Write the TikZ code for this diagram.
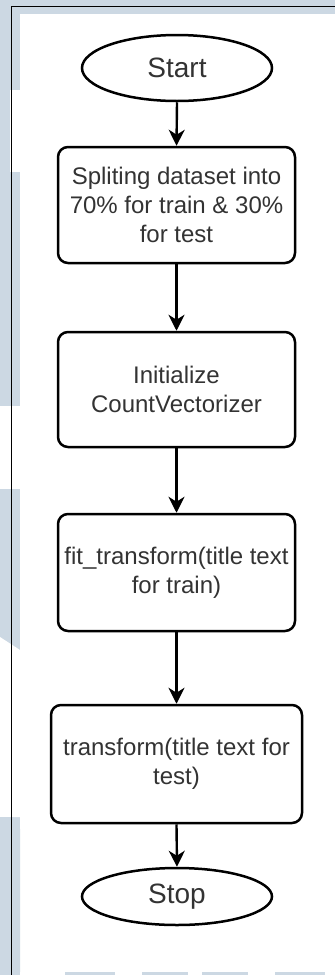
\documentclass[tikz,border=0pt]{standalone}
\usepackage{fontspec}
\setmainfont{Liberation Sans}
\usetikzlibrary{shapes.geometric,arrows.meta}

\definecolor{panelblue}{RGB}{204,216,227}
\definecolor{inkgray}{RGB}{51,51,51}

\tikzset{
  terminal/.style={ellipse, draw=black, line width=2.5pt, fill=white,
    minimum width=190pt, inner sep=0pt, text=inkgray,
    font=\fontsize{28}{32}\selectfont},
  stepbox/.style={rectangle, rounded corners=10pt, draw=black, line width=2.5pt,
    fill=white, inner sep=0pt, align=center, text=inkgray,
    font=\fontsize{24}{29}\selectfont},
  flow/.style={draw=black, line width=2.4pt,
    -{Stealth[length=16pt, width=16pt, inset=5pt]}},
  frameline/.style={draw=black, line width=1pt}
}

\begin{document}
\begin{tikzpicture}[x=1pt, y=-1pt]
  \useasboundingbox (0,0) rectangle (335,975);

  % page background and white drawing area
  \fill[panelblue] (0,0) rectangle (335,975);
  \fill[white] (20,14) rectangle (335,972);

  % light patches along the left margin
  \fill[white] (10,90) rectangle (20,172);
  \fill[white] (0,406) rectangle (20,489);
  \fill[white] (0,637) -- (20,650) -- (20,817) -- (0,817) -- cycle;
  \fill[panelblue] (0,817) -- (8,817) .. controls (16,817) and (20,821) .. (20,829)
    -- (20,972) -- (0,972) -- cycle;

  % short bands along the bottom edge
  \fill[white] (20,972) rectangle (335,975);
  \fill[panelblue] (65,972) rectangle (115,975);
  \fill[panelblue] (142,972) rectangle (188,975);
  \fill[panelblue] (202,972) rectangle (248,975);
  \fill[panelblue] (275,972) rectangle (325,975);

  % frame lines
  \draw[frameline] (11.5,975) -- (11.5,6) -- (335,6);

  % flowchart
  \node[terminal, minimum height=66pt] (start) at (177,68) {Start};
  \node[stepbox, minimum width=237pt, minimum height=116pt] (split) at (176.5,205)
    {Spliting dataset into\\70\% for train \& 30\%\\for test};
  \node[stepbox, minimum width=237pt, minimum height=115pt] (init) at (176.5,389.5)
    {Initialize\\CountVectorizer};
  \node[stepbox, minimum width=237pt, minimum height=117pt] (fit) at (176.5,572.5)
    {fit\_transform(title text\\for train)};
  \node[stepbox, minimum width=251pt, minimum height=118pt] (trans) at (176.5,764)
    {transform(title text for\\test)};
  \node[terminal, minimum height=57pt] (stop) at (177,896.5) {Stop};

  \draw[flow] (start.south) -- (split.north);
  \draw[flow] (split.south) -- (init.north);
  \draw[flow] (init.south) -- (fit.north);
  \draw[flow] (fit.south) -- (trans.north);
  \draw[flow] (trans.south) -- (stop.north);
\end{tikzpicture}
\end{document}
